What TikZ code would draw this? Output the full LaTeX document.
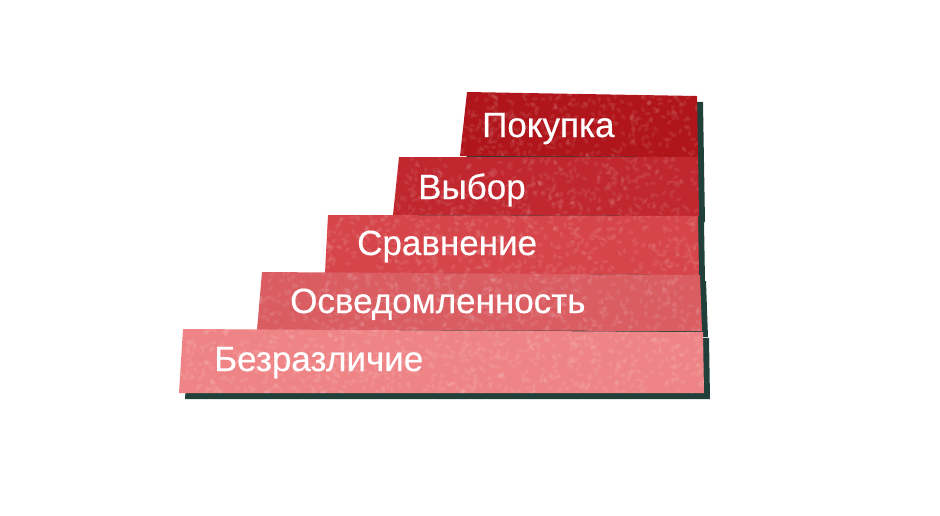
\documentclass[tikz,border=0pt]{standalone}
\usepackage{fontspec}
\setmainfont[FakeBold=0.35]{Liberation Sans}
\definecolor{cA}{HTML}{B0151B}
\definecolor{cB}{HTML}{C1272E}
\definecolor{cC}{HTML}{D6454A}
\definecolor{cD}{HTML}{DA5D62}
\definecolor{cE}{HTML}{EF8486}
\definecolor{shadowc}{HTML}{22403A}
\begin{document}
\begin{tikzpicture}[x=1pt,y=-1pt,
  label/.style={anchor=base west,text=white,inner sep=0pt,font=\fontsize{35}{42}\selectfont},
  shade/.style={fill=shadowc},
  speck/.style={fill=white,opacity=0.08}]
\useasboundingbox (0,0) rectangle (940,515);
\def\barA{(467,92) -- (697,96) -- (698,157) -- (460,156) -- cycle}
\def\barB{(399,157) -- (698,157) -- (699,216) -- (393,215) -- cycle}
\def\barC{(328,215) -- (698,216) -- (699,275) -- (325,273) -- cycle}
\def\barD{(262,272) -- (700,275) -- (702,331) -- (257,330) -- cycle}
\def\barE{(183,329) -- (703,332) -- (704,393) -- (179,393) -- cycle}
% shadows
\begin{scope}[shift={(6,6)}]
  \fill[shade] \barA; \fill[shade] \barB; \fill[shade] \barC; \fill[shade] \barD; \fill[shade] \barE;
\end{scope}
\pgfmathsetseed{7}
\foreach \p/\c/\xa/\xw/\ya in {\barA/cA/460/240/92,\barB/cB/393/306/157,\barC/cC/325/375/215,\barD/cD/257/446/272,\barE/cE/179/526/329}{
  \fill[\c] \p;
  \begin{scope}
    \clip \p;
    \pgfmathtruncatemacro{\nn}{\xw*1.3}
    \foreach \i in {1,...,\nn}{
      \pgfmathsetmacro{\xx}{\xa+rnd*\xw}
      \pgfmathsetmacro{\yy}{\ya+rnd*66}
      \pgfmathsetmacro{\aa}{rnd*180}
      \fill[speck,rotate around={\aa:(\xx,\yy)}] (\xx,\yy) ellipse (3 and 1.7);
    }
  \end{scope}
}
\node[label] (t1) at (482,137) {Покупка};
\node[label] (t2) at (418,199) {Выбор};
\node[label] (t3) at (357,255) {Сравнение};
\node[label] (t4) at (290,313) {Осведомленность};
\node[label] (t5) at (214,371) {Безразличие};
\end{tikzpicture}
\end{document}
